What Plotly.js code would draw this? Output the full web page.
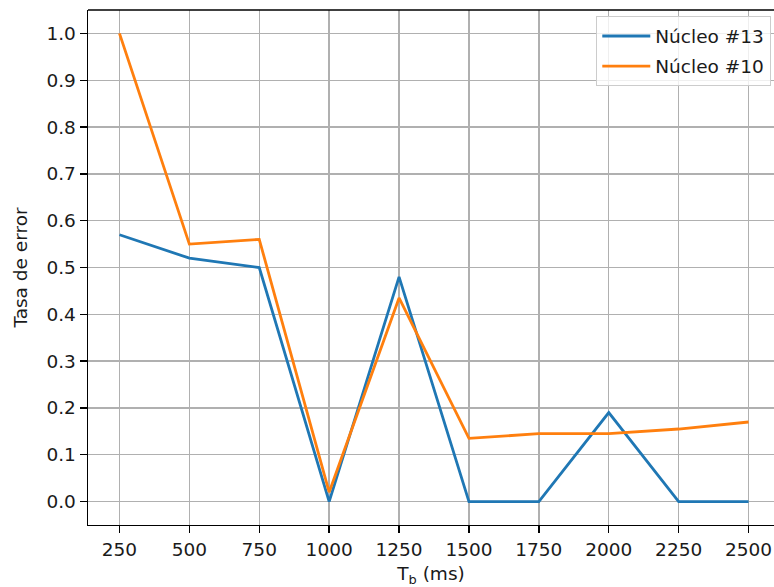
<!DOCTYPE html>
<html>
<head>
<meta charset="utf-8">
<script src="https://cdn.plot.ly/plotly-3.0.1.min.js"></script>
<style>html,body{margin:0;padding:0;background:#fff;}#chart{width:774px;height:587px;}</style>
</head>
<body>
<div id="chart"></div>
<script>
const tb = [250, 500, 750, 1000, 1250, 1500, 1750, 2000, 2250, 2500];
const nucleo13 = [0.57, 0.52, 0.50, 0.0, 0.48, 0.0, 0.0, 0.19, 0.0, 0.0];
const nucleo10 = [1.0, 0.55, 0.56, 0.02, 0.435, 0.135, 0.145, 0.145, 0.155, 0.17];
const seriesNames = ['Núcleo #13', 'Núcleo #10'];
const xTicks = [250, 500, 750, 1000, 1250, 1500, 1750, 2000, 2250, 2500];
const yTicks = [0.0, 0.1, 0.2, 0.3, 0.4, 0.5, 0.6, 0.7, 0.8, 0.9, 1.0];

const font = {family: 'DejaVu Sans', size: 18.5, color: '#1a1a1a'};
const traces = [
  {x: tb, y: nucleo13, name: seriesNames[0], legendgroup: 'a', mode: 'lines', line: {color: '#1f77b4', width: 2.8}},
  {x: tb, y: nucleo10, name: seriesNames[1], legendgroup: 'b', mode: 'lines', line: {color: '#ff7f0e', width: 2.8}}
];
const layout = {
  width: 774, height: 587,
  margin: {l: 88, r: 0, t: 10, b: 62},
  paper_bgcolor: '#fff', plot_bgcolor: '#fff',
  font: font,
  showlegend: true,
  legend: {
    x: 0.9956, y: 0.988, xanchor: 'right', yanchor: 'top',
    bgcolor: 'rgba(255,255,255,0.8)', bordercolor: '#cccccc', borderwidth: 1.3,
    font: font, tracegroupgap: 3, itemwidth: 48
  },
  xaxis: {
    range: [137.5, 2591],
    tickvals: xTicks, ticktext: xTicks.map(String),
    showgrid: true, gridcolor: '#b0b0b0', gridwidth: 1.4,
    zeroline: false,
    showline: true, linecolor: '#000', linewidth: 1.4,
    ticks: 'outside', ticklen: 7, tickwidth: 1.4, tickcolor: '#000',
    tickfont: font,
    title: {text: 'T<sub>b</sub> (ms)', font: font, standoff: 9}
  },
  yaxis: {
    range: [-0.05, 1.05],
    tickvals: yTicks, ticktext: yTicks.map(v => v.toFixed(1)),
    showgrid: true, gridcolor: '#b0b0b0', gridwidth: 1.4,
    zeroline: false,
    showline: true, linecolor: '#000', linewidth: 1.4,
    ticks: 'outside', ticklen: 7, tickwidth: 1.4, tickcolor: '#000',
    tickfont: font,
    title: {text: 'Tasa de error', font: font, standoff: 14}
  },
  shapes: [
    {type: 'line', xref: 'paper', yref: 'paper', x0: 0, x1: 1, y0: 1, y1: 1,
     line: {color: '#000', width: 1.4}, layer: 'above'}
  ]
};
Plotly.newPlot('chart', traces, layout, {displayModeBar: false, staticPlot: true});
</script>
</body>
</html>
